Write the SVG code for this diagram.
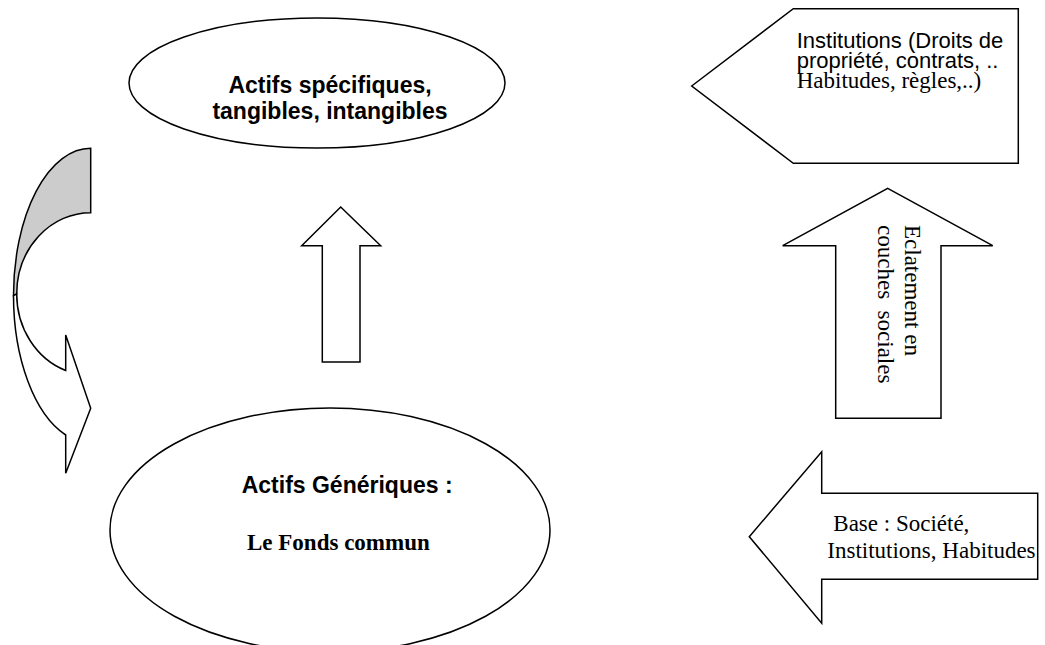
<svg xmlns="http://www.w3.org/2000/svg" width="1045" height="645" viewBox="0 0 1045 645">
<style>
.shp{fill:#ffffff;stroke:#000000;stroke-width:1.5;stroke-linejoin:miter}
.gray{fill:#cccccc;stroke:#000000;stroke-width:1.5}
.ab{font-family:"Liberation Sans",Arial,sans-serif;font-weight:bold;font-size:23px;fill:#000}
.ar{font-family:"Liberation Sans",Arial,sans-serif;font-size:22px;fill:#000}
.tr{font-family:"Liberation Serif","Times New Roman",serif;font-size:23px;fill:#000}
.tb{font-family:"Liberation Serif","Times New Roman",serif;font-weight:bold;font-size:23px;fill:#000}
</style>
<rect width="1045" height="645" fill="#ffffff"/>
<g id="connectors">
  <g id="curved-arrow">
    <path class="gray" d="M90.7,148.3 A77.2,147.3 0 0 0 13.5,295.6 L16.7,294 A74,81.3 0 0 1 90.7,212.7 Z"/>
    <path class="shp" d="M13.5,295.6 A77.2,147.3 0 0 0 65.7,435 L65.7,473.3 L90.7,408.3 L65.7,335 L65.7,370.5 A74,81.3 0 0 1 16.7,294 Z"/>
  </g>
  <polygon id="arrow-up-center" class="shp" points="340.7,207 380.7,245.7 360,245.7 360,362 322.3,362 322.3,245.7 301.7,245.7"/>
  <g id="arrow-eclatement">
    <polygon class="shp" points="887.7,188.3 992.7,245.7 941,245.7 941,418.3 835.7,418.3 835.7,245.7 782.7,245.7"/>
    <text class="tr" transform="translate(905,225) rotate(90)">Eclatement en</text>
    <text class="tr" transform="translate(878,225) rotate(90)" xml:space="preserve">couches  sociales</text>
  </g>
  <g id="arrow-base">
    <polygon class="shp" points="749.3,536.7 821.7,451.7 821.7,493.3 1037.7,493.3 1037.7,579.3 821.7,579.3 821.7,623.3"/>
    <text class="tr" x="833.3" y="530.7">Base : Société,</text>
    <text class="tr" x="827.3" y="558.3">Institutions, Habitudes</text>
  </g>
</g>
<g id="node-specifiques">
  <ellipse class="shp" cx="317" cy="83" rx="188" ry="65"/>
  <text class="ab" x="330" y="93.3" text-anchor="middle">Actifs spécifiques,</text>
  <text class="ab" x="330" y="119.3" text-anchor="middle">tangibles, intangibles</text>
</g>
<g id="node-generiques">
  <ellipse class="shp" cx="330" cy="530" rx="220" ry="122"/>
  <text class="ab" x="241.7" y="493">Actifs Génériques :</text>
  <text class="tb" x="247" y="550">Le Fonds commun</text>
</g>
<g id="node-institutions">
  <polygon class="shp" points="691.7,86 793.3,8.7 1018.3,8.7 1018.3,163.3 793.3,163.3"/>
  <text class="ar" x="796.7" y="47.7">Institutions (Droits de</text>
  <text class="ar" x="796.7" y="68.3">propriété, contrats, ..</text>
  <text class="tr" x="796.7" y="88.3">Habitudes, règles,..)</text>
</g>
</svg>
